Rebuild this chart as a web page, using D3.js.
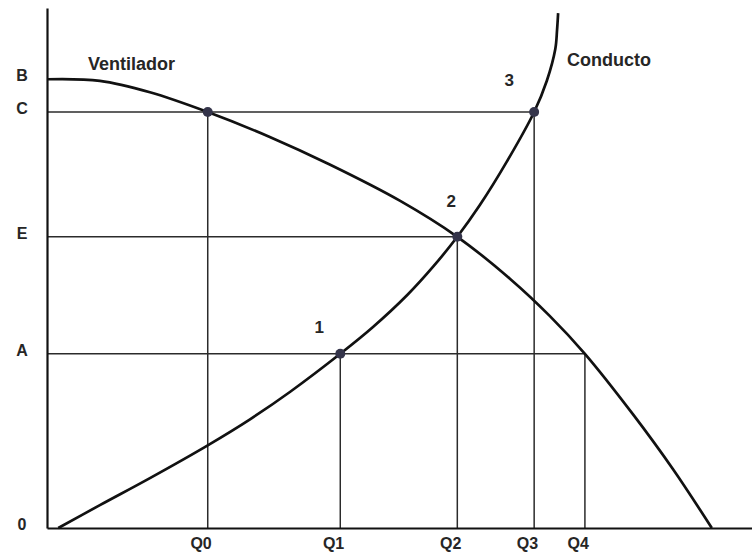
<!DOCTYPE html>
<html>
<head>
<meta charset="utf-8">
<script src="https://cdn.jsdelivr.net/npm/d3@7"></script>
<style>
  body { margin: 0; background: #fff; }
  svg text { font-family: "Liberation Sans", Arial, sans-serif; fill: #262626; font-weight: bold; }
</style>
</head>
<body>
<div id="chart"></div>
<script>

// pressure levels on the left axis
var pressureLabels = ["0", "A", "E", "C", "B"];
var pressureValues = [0, 33.5, 56, 80, 86.3];

// flow rates on the bottom axis
var flowLabels = ["Q0", "Q1", "Q2", "Q3", "Q4"];
var flowValues = [22.8, 41.6, 58.2, 69.1, 76.3];

// fan curve (Ventilador)
var fanQ = [0, 7.5, 14.6, 22.8, 31.6, 40.1, 50.1, 58.2, 65.7, 71.3, 76.3, 83.1, 88.8, 94.3];
var fanP = [86.3, 86.0, 83.8, 80.0, 75.2, 69.9, 62.9, 56.0, 47.9, 40.8, 33.5, 21.9, 11.3, 0];

// duct curve (Conducto)
var ductQ = [1.6, 7.5, 14.6, 22.8, 28.8, 34.5, 41.6, 46.2, 51.1, 54.8, 58.2, 61.4, 65.2, 69.1, 70.9, 72.1, 72.35, 72.5];
var ductP = [0, 4.4, 9.6, 15.9, 20.9, 26.2, 33.5, 38.6, 44.8, 50.3, 56.0, 62.1, 70.4, 80.0, 86.0, 92.1, 95.8, 99.0];

// marked operating points
var pointLabels = ["", "1", "2", "3"];
var pointQ = [22.8, 41.6, 58.2, 69.1];
var pointP = [80, 33.5, 56, 80];

// guide lines: horizontal from axis to flow, vertical from axis to pressure
var hGuideP = [80, 56, 33.5];
var hGuideQ = [69.1, 58.2, 76.3];
var vGuideQ = [22.8, 41.6, 58.2, 69.1, 76.3];
var vGuideP = [80, 33.5, 56, 80, 33.5];

var W = 752, H = 555;
var margin = {top: 8, right: 0, bottom: 27, left: 47};

var x = d3.scaleLinear().domain([0, 100]).range([margin.left, W - margin.right]);
var y = d3.scaleLinear().domain([0, 100]).range([H - margin.bottom, margin.top]);

var svg = d3.select("#chart").append("svg")
    .attr("width", W)
    .attr("height", H);

// guide lines
svg.selectAll(".hguide")
    .data(hGuideP)
  .enter().append("line")
    .attr("x1", x(0))
    .attr("x2", function(d, i) { return x(hGuideQ[i]); })
    .attr("y1", function(d) { return y(d); })
    .attr("y2", function(d) { return y(d); })
    .attr("stroke", "#2b2b2b")
    .attr("stroke-width", 1.5);

svg.selectAll(".vguide")
    .data(vGuideQ)
  .enter().append("line")
    .attr("x1", function(d) { return x(d); })
    .attr("x2", function(d) { return x(d); })
    .attr("y1", y(0))
    .attr("y2", function(d, i) { return y(vGuideP[i]); })
    .attr("stroke", "#2b2b2b")
    .attr("stroke-width", 1.5);

// curves
var line = d3.line()
    .x(function(d) { return x(d[0]); })
    .y(function(d) { return y(d[1]); })
    .curve(d3.curveCatmullRom);

svg.append("path")
    .datum(d3.zip(fanQ, fanP))
    .attr("d", line)
    .attr("fill", "none")
    .attr("stroke", "#111")
    .attr("stroke-width", 2.7);

svg.append("path")
    .datum(d3.zip(ductQ, ductP))
    .attr("d", line)
    .attr("fill", "none")
    .attr("stroke", "#111")
    .attr("stroke-width", 2.7);

// axes
svg.append("g")
    .attr("transform", "translate(" + x(0) + ",0)")
    .call(d3.axisLeft(y)
      .tickValues(pressureValues)
      .tickSize(0)
      .tickPadding(25)
      .tickFormat(function(d, i) { return pressureLabels[i]; }))
    .call(function(g) {
      g.select(".domain").attr("stroke", "#111").attr("stroke-width", 2.2);
      g.selectAll("text")
        .attr("font-size", 16)
        .attr("font-family", null)
        .attr("dy", "0.1em")
        .attr("text-anchor", "middle");
    });

svg.append("g")
    .attr("transform", "translate(0," + y(0) + ")")
    .call(d3.axisBottom(x)
      .tickValues(flowValues)
      .tickSize(0)
      .tickPadding(10)
      .tickFormat(function(d, i) { return flowLabels[i]; }))
    .call(function(g) {
      g.select(".domain").attr("stroke", "#111").attr("stroke-width", 2.2);
      g.selectAll("text")
        .attr("font-size", 16)
        .attr("font-family", null)
        .attr("dx", "-0.45em");
    });

// operating points
svg.selectAll(".pt")
    .data(pointQ)
  .enter().append("circle")
    .attr("cx", function(d) { return x(d); })
    .attr("cy", function(d, i) { return y(pointP[i]); })
    .attr("r", 5)
    .attr("fill", "#34344a");

var labelOffset = [[0, 0], [-21, -27], [-6, -36], [-25, -32]];
svg.selectAll(".ptlabel")
    .data(pointQ)
  .enter().append("text")
    .attr("x", function(d, i) { return x(d) + labelOffset[i][0]; })
    .attr("y", function(d, i) { return y(pointP[i]) + labelOffset[i][1]; })
    .attr("text-anchor", "middle")
    .attr("dy", "0.35em")
    .attr("font-size", 17)
    .text(function(d, i) { return pointLabels[i]; });

// curve names
svg.append("text")
    .attr("x", 88)
    .attr("y", 70)
    .attr("font-size", 18)
    .text("Ventilador");

svg.append("text")
    .attr("x", 567)
    .attr("y", 66)
    .attr("font-size", 18)
    .text("Conducto");

</script>
</body>
</html>
